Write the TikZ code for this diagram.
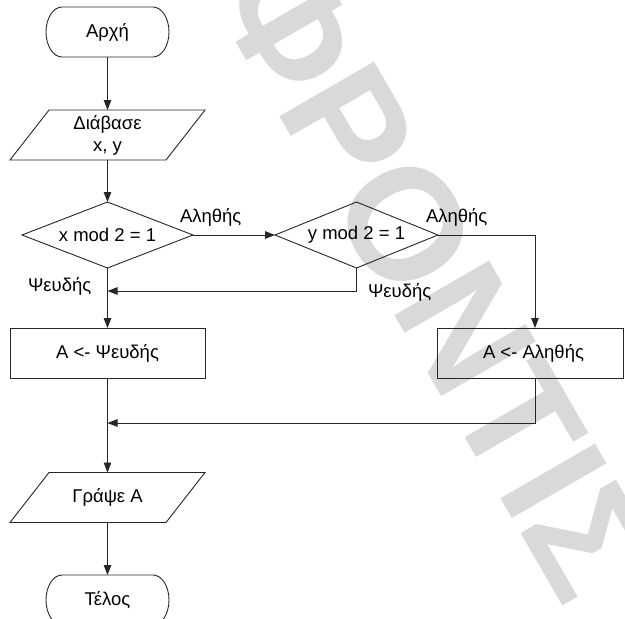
\documentclass[tikz,border=0pt]{standalone}
\usepackage{fontspec}
\setmainfont{Liberation Sans}
\usetikzlibrary{arrows.meta}
\begin{document}
\begin{tikzpicture}[x=1pt,y=-1pt,
  every node/.style={font=\fontsize{18.5}{22}\selectfont, inner sep=0pt, outer sep=0pt},
  frame/.style={draw=black!85, line width=0.9pt, line join=miter},
  link/.style={draw=black!85, line width=0.9pt},
  flow/.style={link, -{Triangle[length=10pt,width=7.5pt]}},
  lbl/.style={anchor=base west},
  blk/.style={minimum width=#1, minimum height=50pt},
  decision/.style={minimum width=#1, minimum height=66pt},
  procbox/.style={frame, minimum width=#1, minimum height=50pt},
  watermark/.style={rotate=-60, anchor=base west, text=black!15,
    font=\fontsize{159}{159}\selectfont\bfseries}
]
\useasboundingbox (0,0) rectangle (625,619);

% background watermark
\begin{scope}
  \clip (0,0) rectangle (625,619);
  \node[watermark] (wm) at (209,-6) {ΦΡΟΝΤΙΣ};
\end{scope}

% nodes
\node[blk=123pt] (start) at (107.5,32) {Αρχή};
\node[blk=195pt, align=center] (read) at (107.5,135) {Διάβασε\\x, y};
\node[decision=171pt] (c1) at (107.5,235) {x mod 2 = 1};
\node[decision=163pt] (c2) at (356.5,235) {y mod 2 = 1};
\node[procbox=195pt] (sf) at (107.5,353) {A <- Ψευδής};
\node[procbox=186pt] (st) at (530,353) {\hspace*{7pt}A <- Αληθής};
\node[blk=195pt] (write) at (107.5,497.5) {Γράψε A};
\node[blk=123pt] (end) at (107.5,600) {Τέλος};

% terminals
\foreach \t in {start,end}{
  \draw[frame] ([xshift=16pt]\t.north west) -- ([xshift=-16pt]\t.north east)
    arc[start angle=90, end angle=-90, x radius=16pt, y radius=25pt]
    -- ([xshift=16pt]\t.south west)
    arc[start angle=270, end angle=90, x radius=16pt, y radius=25pt] -- cycle;
}
% input / output
\foreach \t in {read,write}{
  \draw[frame] (\t.south west) -- ([xshift=-39pt]\t.south east)
    -- (\t.north east) -- ([xshift=39pt]\t.north west) -- cycle;
}
% decisions
\foreach \t in {c1,c2}{
  \draw[frame] (\t.west) -- (\t.north) -- (\t.east) -- (\t.south) -- cycle;
}

% junctions on the main line
\coordinate (j1) at (107.5,291);
\coordinate (j2) at (107.5,423);

% connectors
\draw[flow] (start.south) -- (read.north);
\draw[flow] (read.south) -- (c1.north);
\draw[flow] (c1.east) -- (c2.west);
\draw[flow] (c1.south) -- (sf.north);
\draw[flow] (c2.east) -| ([xshift=5pt]st.north);
\draw[flow] (c2.south) |- (j1);
\draw[flow] (sf.south) -- (write.north);
\draw[flow] ([xshift=5pt]st.south) |- (j2);
\draw[flow] (write.south) -- (end.north);

% branch labels
\node[lbl] (t1) at (180,222.5) {Αληθής};
\node[lbl] (t2) at (426,222.5) {Αληθής};
\node[lbl] (f1) at (28,291) {Ψευδής};
\node[lbl] (f2) at (368,297) {Ψευδής};
\end{tikzpicture}
\end{document}
